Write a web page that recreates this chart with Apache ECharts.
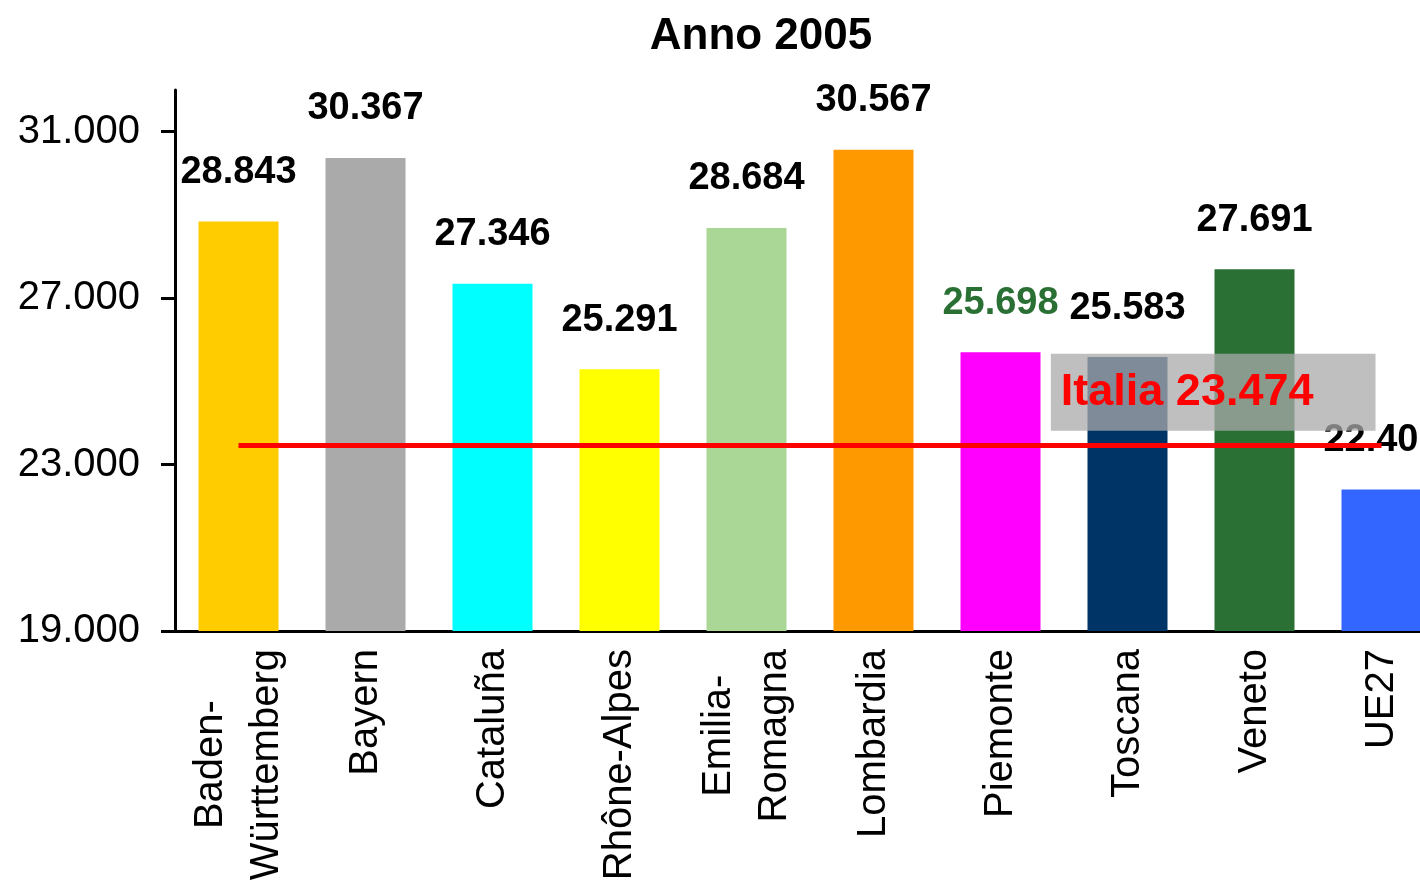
<!DOCTYPE html>
<html>
<head>
<meta charset="utf-8">
<script src="https://cdn.jsdelivr.net/npm/echarts@6/dist/echarts.min.js"></script>
<style>
  html, body { margin: 0; padding: 0; background: #fff; }
  #chart { width: 1420px; height: 890px; }
</style>
</head>
<body>
<div id="chart"></div>
<script>
// dati
var regioni = ['Baden-\nWürttemberg', 'Bayern', 'Cataluña', 'Rhône-Alpes', 'Emilia-\nRomagna',
               'Lombardia', 'Piemonte', 'Toscana', 'Veneto', 'UE27'];
var pil = [28843, 30367, 27346, 25291, 28684, 30567, 25698, 25583, 27691, 22400];
var italia = 23474;
var yTicks = [19000, 23000, 27000, 31000];
var colori = ['#ffcc00', '#aaaaaa', '#00ffff', '#ffff00', '#aad796',
              '#ff9900', '#ff00ff', '#003366', '#2a7035', '#3366ff'];

var font = '"Liberation Sans", Arial, sans-serif';

function fmt(v) {
    // separatore migliaia all'italiana
    return String(v).replace(/\B(?=(\d{3})+(?!\d))/g, '.');
}

var myChart = echarts.init(document.getElementById('chart'));

var barData = [];
for (var i = 0; i < pil.length; i++) {
    var item = { value: pil[i], itemStyle: { color: colori[i] } };
    if (regioni[i] == 'Piemonte') {
        item.label = { color: '#2a7035' };
    }
    barData.push(item);
}

var option = {
    animation: false,
    title: {
        text: 'Anno 2005',
        left: 756,
        top: 10,
        textAlign: 'center',
        textStyle: { fontFamily: font, fontSize: 44, fontWeight: 'bold', color: '#000' }
    },
    // il grafico originale e' tagliato a destra: l'area supera il bordo
    grid: { left: 175, width: 1270, top: 90, bottom: 259, containLabel: false, outerBoundsMode: 'none' },
    xAxis: {
        type: 'category',
        data: regioni,
        axisLine: { lineStyle: { color: '#000', width: 3 } },
        axisTick: { show: false },
        axisLabel: {
            rotate: 90,
            margin: 18,
            interval: 0,
            formatter: function (v) {
                return v.split('\n').map(function (s) { return '{c|' + s + '}'; }).join('\n');
            },
            rich: {
                c: { align: 'center', fontFamily: font, fontSize: 40, lineHeight: 56, color: '#000' }
            }
        }
    },
    yAxis: {
        type: 'value',
        min: yTicks[0],
        max: 32000,
        interval: yTicks[1] - yTicks[0],
        splitLine: { show: false },
        axisLine: { show: true, lineStyle: { color: '#000', width: 3 } },
        axisTick: { show: true, length: 14, lineStyle: { color: '#000', width: 3 } },
        axisLabel: {
            margin: 35,
            showMaxLabel: false,
            fontFamily: font,
            fontSize: 40,
            color: '#000',
            formatter: function (v) { return yTicks.indexOf(v) >= 0 ? fmt(v) : ''; }
        }
    },
    series: [
        {
            type: 'bar',
            data: barData,
            barWidth: 80,
            label: {
                show: true,
                position: 'top',
                distance: 30,
                fontFamily: font,
                fontSize: 38,
                fontWeight: 'bold',
                color: '#000',
                formatter: function (p) { return fmt(p.value); }
            },
            markLine: {
                silent: true,
                symbol: 'none',
                lineStyle: { color: '#ff0000', width: 5, type: 'solid' },
                data: [[
                    { coord: [0, italia] },
                    { coord: [regioni.length - 1, italia] }
                ]],
                label: {
                    show: true,
                    position: 'insideEndTop',
                    distance: [6, 14],
                    formatter: 'Italia ' + fmt(italia),
                    fontFamily: font,
                    fontSize: 45,
                    fontWeight: 'bold',
                    color: '#ff0000',
                    backgroundColor: 'rgba(170,170,170,0.75)',
                    padding: [16, 62, 16, 10]
                }
            }
        }
    ]
};
myChart.setOption(option);
</script>
</body>
</html>
